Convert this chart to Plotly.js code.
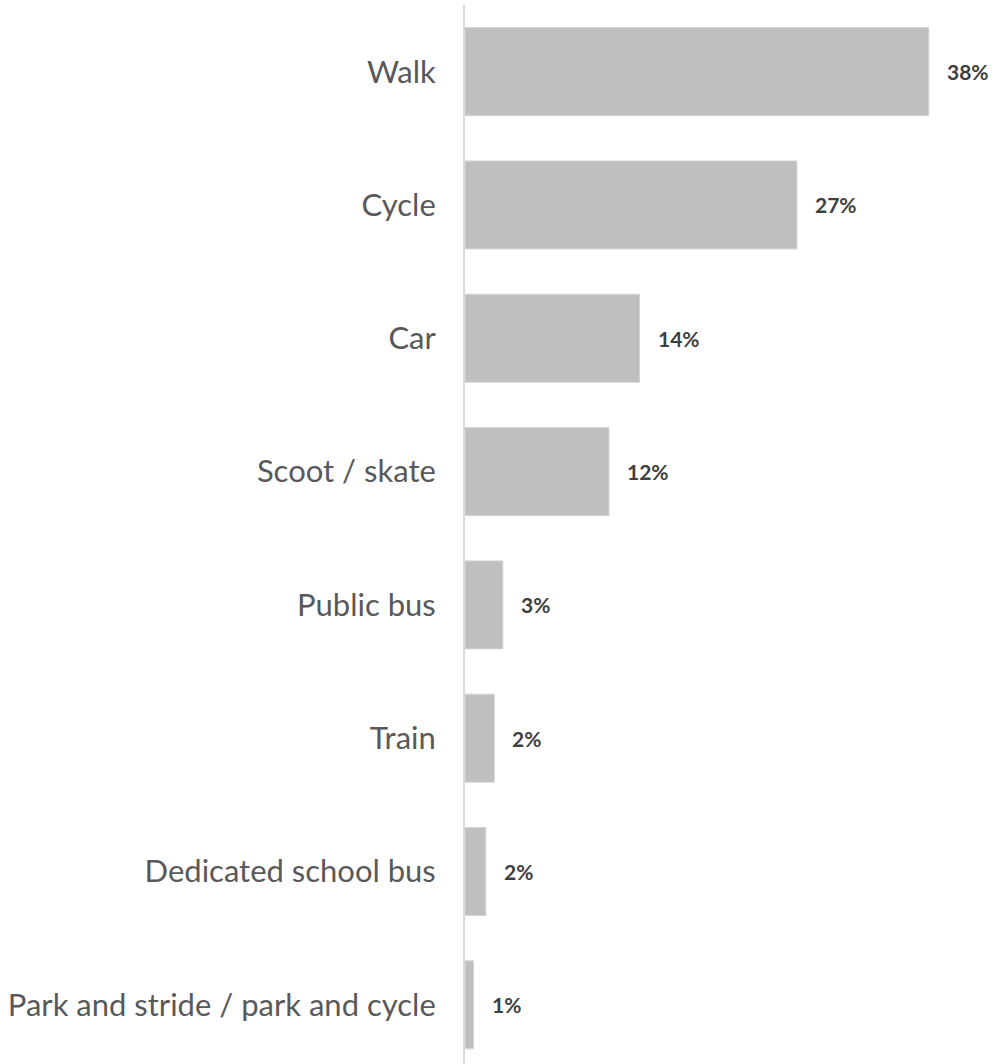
<!DOCTYPE html>
<html>
<head>
<meta charset="utf-8">
<script src="https://cdn.plot.ly/plotly-3.0.1.min.js"></script>
<style>html,body{margin:0;padding:0;background:#fff;}#chart{width:1007px;height:1064px;}</style>
</head>
<body>
<div id="chart"></div>
<script>
const categories = ["Walk", "Cycle", "Car", "Scoot / skate", "Public bus", "Train", "Dedicated school bus", "Park and stride / park and cycle"];
const shares = [38.0, 27.2, 14.3, 11.8, 3.1, 2.4, 1.7, 0.7];
const labels = shares.map(v => Math.round(v) + "%");

const trace = {
  type: "bar",
  orientation: "h",
  x: shares,
  y: categories,
  marker: {color: "#bfbfbf", line: {color: "#d4d4d4", width: 1}},
  hoverinfo: "none"
};

const annotations = shares.map((v, i) => ({
  x: v, y: categories[i], xref: "x", yref: "y",
  text: "<b>" + labels[i] + "</b>",
  showarrow: false, xanchor: "left", yanchor: "middle", xshift: 16,
  font: {family: "Lato, 'Open Sans', sans-serif", size: 21, color: "#404040"}
}));

const layout = {
  width: 1007, height: 1064,
  margin: {l: 465, r: 5, t: 5, b: 0, pad: 0},
  paper_bgcolor: "#ffffff", plot_bgcolor: "#ffffff",
  showlegend: false,
  bargap: 0.34,
  xaxis: {range: [0, 44], visible: false, fixedrange: true},
  yaxis: {
    type: "category",
    categoryorder: "array", categoryarray: categories,
    range: [7.444, -0.5],
    showline: true, linecolor: "#d9d9d9", linewidth: 2,
    showgrid: false, zeroline: false, ticks: "",
    ticklabelstandoff: 21,
    tickfont: {family: "Lato, 'Open Sans', sans-serif", size: 31, color: "#595959"}
  },
  annotations: annotations
};

Plotly.newPlot("chart", [trace], layout, {staticPlot: true, displayModeBar: false});
</script>
</body>
</html>
